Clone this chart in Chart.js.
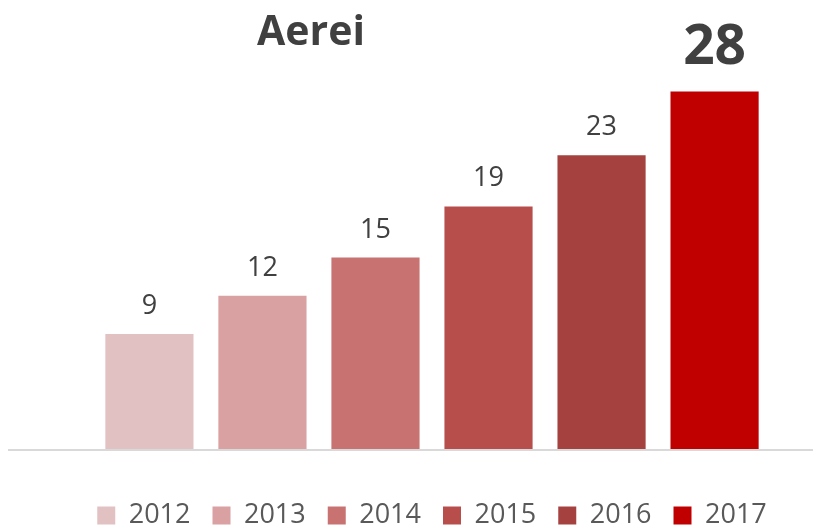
<!DOCTYPE html>
<html>
<head>
<meta charset="utf-8">
<script src="https://cdn.jsdelivr.net/npm/chart.js@4"></script>
<style>
  html, body { margin: 0; padding: 0; background: #fff; }
  #wrap { width: 813px; height: 526px; }
</style>
</head>
<body>
<div id="wrap"><canvas id="chart"></canvas></div>
<script>
const years = ['2012', '2013', '2014', '2015', '2016', '2017'];
const values = [9, 12, 15, 19, 23, 28];
const colors = ['#E2C1C3', '#D9A1A2', '#C87372', '#B84E4C', '#A54240', '#C00000'];
const chartTitle = 'Aerei';

// labels above bars, the last one big and bold
const barLabels = {
    id: 'barLabels',
    afterDatasetsDraw(chart) {
        const ctx = chart.ctx;
        ctx.save();
        ctx.fillStyle = '#404040';
        ctx.textAlign = 'center';
        ctx.textBaseline = 'alphabetic';
        chart.data.datasets.forEach((ds, i) => {
            const bar = chart.getDatasetMeta(i).data[0];
            const last = i === chart.data.datasets.length - 1;
            ctx.font = last ? 'bold 55px "Open Sans"' : '27px "Open Sans"';
            ctx.fillText(String(ds.data[0]), bar.x, bar.y - (last ? 28 : 20));
        });
        ctx.restore();
    }
};

const baseline = {
    id: 'baseline',
    beforeDatasetsDraw(chart) {
        const ctx = chart.ctx;
        const y = chart.scales.y.getPixelForValue(0);
        ctx.save();
        ctx.strokeStyle = '#D9D9D9';
        ctx.lineWidth = 2;
        ctx.beginPath();
        ctx.moveTo(8, y + 1);
        ctx.lineTo(chart.width, y + 1);
        ctx.stroke();
        ctx.restore();
    }
};

const titleText = {
    id: 'titleText',
    afterDraw(chart) {
        const ctx = chart.ctx;
        ctx.save();
        ctx.fillStyle = '#404040';
        ctx.font = 'bold 41px "Open Sans"';
        ctx.textAlign = 'center';
        ctx.textBaseline = 'alphabetic';
        ctx.fillText(chartTitle, 311, 45);
        ctx.restore();
    }
};

const ctx = document.getElementById('chart').getContext('2d');
let chart = new Chart(ctx, {
    type: 'bar',
    data: {
        labels: [''],
        datasets: years.map((y, i) => ({
            label: y,
            data: [values[i]],
            backgroundColor: colors[i],
            categoryPercentage: 0.89,
            barPercentage: 0.78
        }))
    },
    options: {
        responsive: true,
        maintainAspectRatio: false,
        animation: false,
        layout: {
            padding: { left: 51, right: 0, top: 66, bottom: -13 }
        },
        scales: {
            x: {
                display: true,
                grid: { display: false },
                border: { display: false },
                ticks: { display: false },
                afterFit(scale) { scale.height = 31; }
            },
            y: { display: false, min: 0, max: 30 }
        },
        plugins: {
            title: { display: false },
            tooltip: { enabled: false },
            legend: {
                position: 'bottom',
                labels: {
                    boxWidth: 18,
                    boxHeight: 18,
                    padding: 22,
                    color: '#595959',
                    font: { family: 'Open Sans', size: 27 }
                }
            }
        }
    },
    plugins: [baseline, barLabels, titleText]
});
</script>
</body>
</html>
